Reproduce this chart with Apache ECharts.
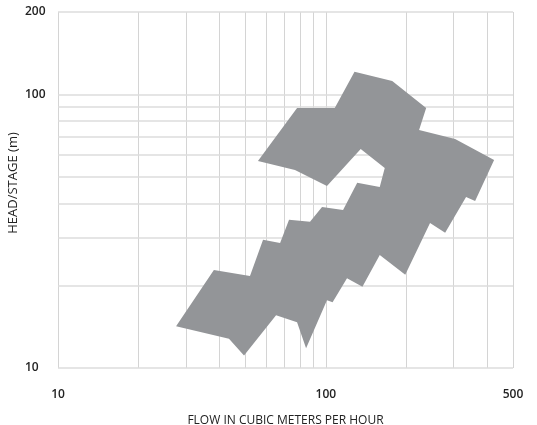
<!DOCTYPE html>
<html>
<head>
<meta charset="utf-8">
<script src="https://cdn.jsdelivr.net/npm/echarts@6/dist/echarts.min.js"></script>
<style>html,body{margin:0;padding:0;background:#fff}#c{width:537px;height:425px}</style>
</head>
<body>
<div id="c"></div>
<script>
// Outline of the pump coverage area (flow m3/h, head m), clockwise
const flow = [27.6, 38.2, 52.1, 58.3, 67.5, 72.9, 87.3, 96.8, 116, 131, 159, 166, 135, 101, 76.7, 55.8, 78.1, 108, 128, 177, 237, 223, 304, 425, 361, 334, 279, 245, 198, 159, 137, 120, 106, 101, 84.4, 78.1, 65.2, 49.5, 43.5];
const head = [14.2, 22.8, 21.7, 29.4, 28.6, 34.8, 34.2, 38.8, 37.8, 47.5, 45.9, 53.8, 63.2, 46.3, 52.9, 57.1, 89.2, 89.2, 121, 112, 89.2, 74.1, 68.7, 57.6, 40.8, 42.2, 31.2, 33.9, 21.9, 25.9, 19.8, 21.3, 17.4, 17.7, 11.8, 14.7, 15.6, 11.1, 12.8];
// Grid lines
const xGrid = [10, 20, 30, 40, 50, 60, 70, 80, 90, 100, 200, 300, 400, 500];
const yGrid = [10, 20, 30, 40, 50, 60, 70, 80, 90, 100, 200];
// Axis tick labels
const xTickLabels = [10, 100, 500];
const yTickLabels = [10, 100, 200];
const xName = 'FLOW IN CUBIC METERS PER HOUR';
const yName = 'HEAD/STAGE (m)';

const points = flow.map((f, i) => [f, head[i]]);
const font = '"Open Sans", "DejaVu Sans", sans-serif';
const chart = echarts.init(document.getElementById('c'), null, {renderer: 'canvas'});
chart.setOption({
  animation: false,
  backgroundColor: '#ffffff',
  grid: {left: 58, right: 24, top: 12, bottom: 57, containLabel: false, outerBoundsMode: 'none'},
  xAxis: {
    type: 'log', logBase: 10, min: 10, max: 500,
    name: xName, nameLocation: 'middle', nameGap: 47, nameMoveOverlap: false,
    nameTextStyle: {fontFamily: font, fontSize: 12, color: '#222'},
    axisLine: {show: false}, axisTick: {show: false}, splitLine: {show: false},
    axisLabel: {
      fontFamily: font, fontSize: 12, fontWeight: 600, color: '#222', margin: 21,
      formatter: v => (xTickLabels.some(t => Math.abs(t - v) < 1e-6 * t) ? String(Math.round(v)) : '')
    }
  },
  yAxis: {
    type: 'log', logBase: 10, min: 10, max: 200,
    name: yName, nameLocation: 'middle', nameGap: 38, nameMoveOverlap: false,
    nameTextStyle: {fontFamily: font, fontSize: 13, color: '#222', padding: [0, 0, 0, 14]},
    axisLine: {show: false}, axisTick: {show: false}, splitLine: {show: false},
    axisLabel: {
      fontFamily: font, fontSize: 12, fontWeight: 600, color: '#222', margin: 33, align: 'left',
      formatter: v => (yTickLabels.some(t => Math.abs(t - v) < 1e-6 * t) ? String(Math.round(v)) : '')
    }
  },
  series: [
    {
      type: 'line', data: [], z: 1, silent: true,
      markLine: {
        silent: true, symbol: ['none', 'none'], label: {show: false}, z: 1,
        lineStyle: {color: '#d4d4d4', width: 1, type: 'solid'},
        emphasis: {disabled: true},
        data: xGrid.map(v => ({xAxis: v})).concat(yGrid.map(v => ({yAxis: v, lineStyle: {color: '#dcdcdc', width: 1.5, type: 'solid'}})))
      }
    },
    {
      type: 'custom', z: 10, silent: true,
      data: points,
      encode: {x: 0, y: 1},
      renderItem: function (params, api) {
        if (params.dataIndex !== 0) return null;
        const pts = points.map(p => api.coord(p));
        return {type: 'polygon', shape: {points: pts}, style: {fill: '#939598', stroke: null}};
      }
    }
  ]
});
</script>
</body>
</html>
